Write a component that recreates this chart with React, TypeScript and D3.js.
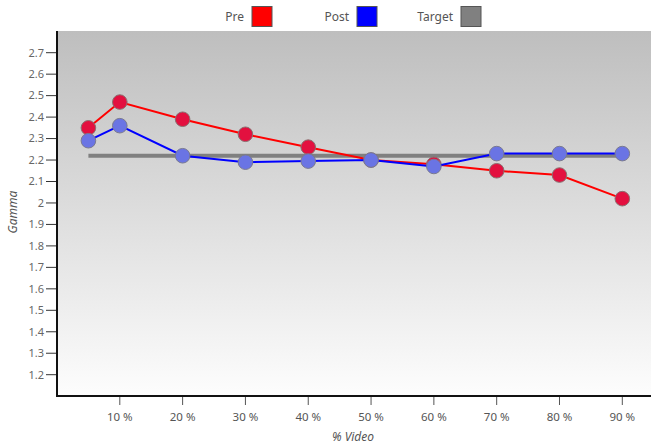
import React from "react";
import * as d3 from "d3";

const categories = [5, 10, 20, 30, 40, 50, 60, 70, 80, 90];
const preValues = [2.35, 2.47, 2.39, 2.32, 2.26, 2.2, 2.18, 2.15, 2.13, 2.02];
const postValues = [2.29, 2.36, 2.22, 2.19, 2.195, 2.2, 2.17, 2.23, 2.23, 2.23];
const targetValues = [2.22, 2.22, 2.22, 2.22, 2.22, 2.22, 2.22, 2.22, 2.22, 2.22];
const xTicks = [10, 20, 30, 40, 50, 60, 70, 80, 90];
const yTicks = [1.2, 1.3, 1.4, 1.5, 1.6, 1.7, 1.8, 1.9, 2, 2.1, 2.2, 2.3, 2.4, 2.5, 2.6, 2.7];
const legendItems = [
  { name: "Pre", color: "#ff0000" },
  { name: "Post", color: "#0000ff" },
  { name: "Target", color: "#808080" },
];

const W = 651;
const H = 448;
const left = 57;
const top = 31;
const bottom = 396;
const right = 651;

export default function App() {
  const x = d3.scaleLinear().domain([0, 90]).range([left, 622.3]);
  const y = d3.scaleLinear().domain([1.2, 2.7]).range([374.7, 52.7]);
  const line = d3
    .line<number>()
    .x((_, i) => x(categories[i]))
    .y((d) => y(d));
  const font = "'Noto Sans', 'Open Sans', sans-serif";
  const legendX = [252, 357, 461];

  return (
    <svg
      width={W}
      height={H}
      style={{ position: "absolute", left: 0, top: 0, background: "#ffffff" }}
      fontFamily={font}
    >
      <defs>
        <linearGradient id="bg" x1="0" y1="0" x2="0" y2="1">
          <stop offset="0%" stopColor="#bebebe" />
          <stop offset="100%" stopColor="#fdfdfd" />
        </linearGradient>
      </defs>
      <rect x={left} y={top} width={right - left} height={bottom - top} fill="url(#bg)" />

      {/* legend */}
      {legendItems.map((it, i) => (
        <g key={it.name}>
          <text
            x={legendX[i] - 8}
            y={21}
            textAnchor="end"
            fontSize={12}
            fill="#555"
          >
            {it.name}
          </text>
          <rect
            x={legendX[i]}
            y={6.5}
            width={20}
            height={20}
            fill={it.color}
            stroke="#555"
            strokeWidth={1}
          />
        </g>
      ))}

      {/* y axis */}
      {yTicks.map((t) => (
        <g key={t}>
          <line x1={46} x2={left} y1={y(t)} y2={y(t)} stroke="#333" strokeWidth={1} />
          <text
            x={44}
            y={y(t)}
            dy="0.35em"
            textAnchor="end"
            fontSize={11}
            fill="#666"
          >
            {d3.format("")(t)}
          </text>
        </g>
      ))}
      <line x1={left} x2={left} y1={top} y2={bottom + 1} stroke="#111" strokeWidth={2} />

      {/* x axis */}
      {xTicks.map((t) => (
        <g key={t}>
          <line x1={x(t)} x2={x(t)} y1={bottom} y2={bottom + 9} stroke="#555" strokeWidth={1} />
          <text x={x(t)} y={421} textAnchor="middle" fontSize={11.5} fill="#555">
            {t + " %"}
          </text>
        </g>
      ))}
      <line x1={left - 1} x2={right} y1={bottom} y2={bottom} stroke="#111" strokeWidth={2} />

      <text x={353} y={441} textAnchor="middle" fontSize={12} fontStyle="italic" fill="#555">
        % Video
      </text>
      <text
        transform={`translate(17,212) rotate(-90)`}
        textAnchor="middle"
        fontSize={12}
        fontStyle="italic"
        fill="#555"
      >
        Gamma
      </text>

      {/* target */}
      <path d={line(targetValues) || ""} fill="none" stroke="#808080" strokeWidth={4} />

      {/* pre */}
      <path d={line(preValues) || ""} fill="none" stroke="#ff0000" strokeWidth={2} />
      {preValues.map((v, i) => (
        <circle
          key={"pre" + i}
          cx={x(categories[i])}
          cy={y(v)}
          r={7.3}
          fill="#e3103f"
          stroke="#8a7070"
          strokeWidth={1}
        />
      ))}

      {/* post */}
      <path d={line(postValues) || ""} fill="none" stroke="#0000ff" strokeWidth={2} />
      {postValues.map((v, i) => (
        <circle
          key={"post" + i}
          cx={x(categories[i])}
          cy={y(v)}
          r={7.3}
          fill="#6a74e4"
          stroke="#7a7a90"
          strokeWidth={1}
        />
      ))}
    </svg>
  );
}
